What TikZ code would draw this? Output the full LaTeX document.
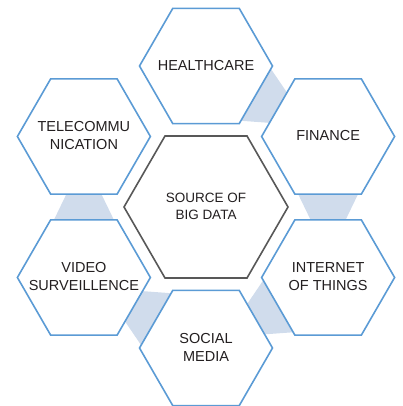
\documentclass[tikz,border=0pt]{standalone}
\usepackage{fontspec}
\setmainfont{Liberation Sans}
\usetikzlibrary{calc}
\definecolor{hexblue}{RGB}{91,155,213}
\definecolor{bandblue}{RGB}{208,220,236}
\definecolor{coregray}{RGB}{88,88,88}
\definecolor{txt}{RGB}{35,31,32}
\begin{document}
\begin{tikzpicture}[x=1pt,y=1pt,
  hexline/.style={draw=hexblue, line width=1.6pt, fill=white, line join=miter},
  corehex/.style={draw=coregray, line width=1.6pt, fill=white, line join=miter},
  band/.style={fill=bandblue, draw=none},
  hextext/.style={align=center, inner sep=0pt, text=txt, font=\fontsize{14.5}{18}\selectfont},
  coretext/.style={align=center, inner sep=0pt, text=txt, font=\fontsize{13.5}{17.5}\selectfont}]
\useasboundingbox (0,0) rectangle (402,406);

% centre of the ring and the six outer cells
\coordinate (c) at (206,199);
\coordinate (health) at ($(c)+(90:141)$);
\coordinate (fin)    at ($(c)+(30:141)$);
\coordinate (iot)    at ($(c)+(-30:141)$);
\coordinate (soc)    at ($(c)+(-90:141)$);
\coordinate (vid)    at ($(c)+(-150:141)$);
\coordinate (tel)    at ($(c)+(150:141)$);

% shaded bands bridging neighbouring cells
\foreach \r in {0,60,120,180,240}{
  \begin{scope}[shift={(c)}, rotate=\r]
    \fill[band] (-139.6,12.9) -- (-104.6,12.9) -- (-92.1,-12.9) -- (-152.1,-12.9) -- cycle;
  \end{scope}
}

% outer hexagons
\foreach \p in {health,fin,iot,soc,vid,tel}{
  \draw[hexline] (\p) ++(0:66.5) -- ++(120:66.5) -- ++(180:66.5) -- ++(240:66.5)
    -- ++(300:66.5) -- ++(0:66.5) -- cycle;
}

% central hexagon
\draw[corehex] (c) ++(0:82) -- ++(120:82) -- ++(180:82) -- ++(240:82)
  -- ++(300:82) -- ++(0:82) -- cycle;

% labels
\node[coretext] (core) at ($(c)+(0,0.5)$) {SOURCE OF\\BIG DATA};
\node[hextext] (nhealth) at ($(health)+(0,0.5)$) {HEALTHCARE};
\node[hextext] (nfin) at ($(fin)+(0,0.5)$) {FINANCE};
\node[hextext] (niot) at ($(iot)+(0,0.5)$) {INTERNET\\OF THINGS};
\node[hextext] (nsoc) at ($(soc)+(0,0.5)$) {SOCIAL\\MEDIA};
\node[hextext] (nvid) at ($(vid)+(0,0.5)$) {VIDEO\\SURVEILLENCE};
\node[hextext] (ntel) at ($(tel)+(0,0.5)$) {TELECOMMU\\NICATION};
\end{tikzpicture}
\end{document}
